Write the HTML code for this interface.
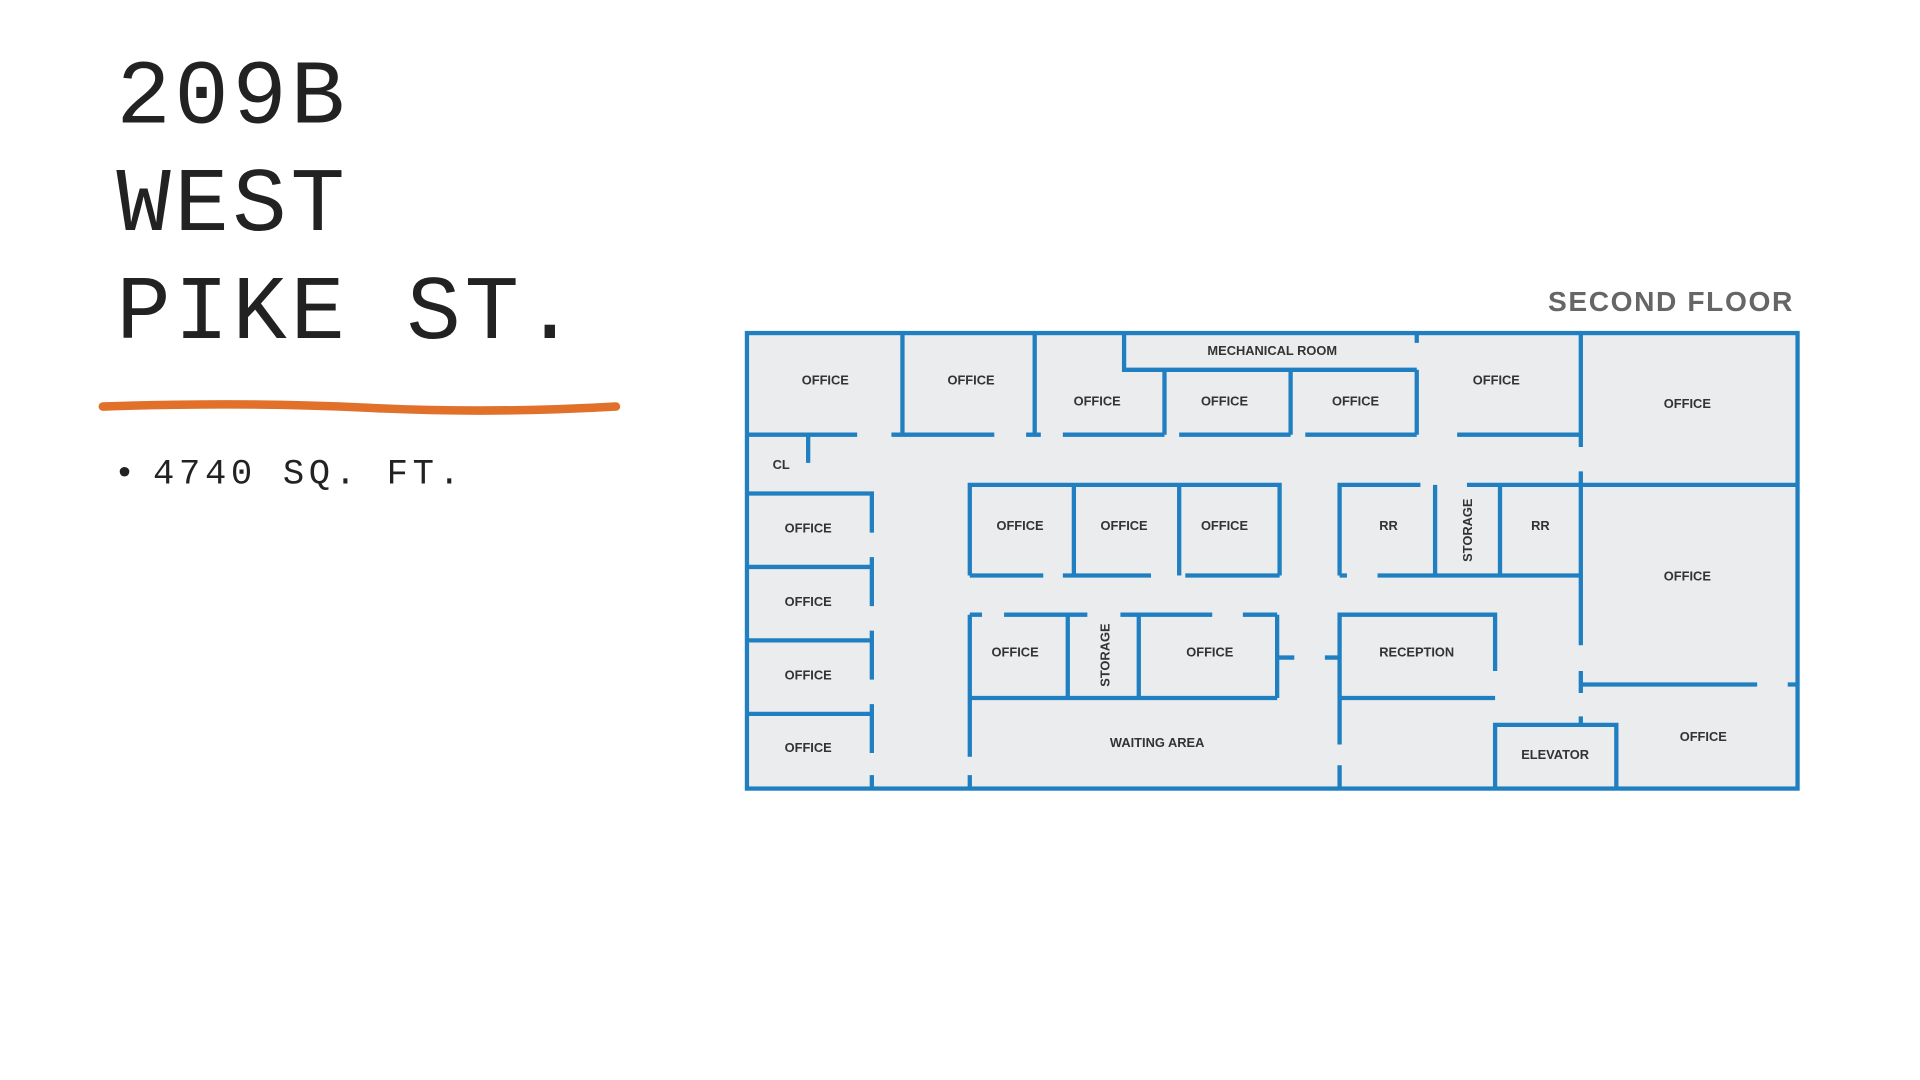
<!DOCTYPE html>
<html><head><meta charset="utf-8"><style>
html,body{margin:0;padding:0;background:#fff;}
svg{display:block;}
.l{font-family:"Liberation Sans",sans-serif;font-weight:bold;font-size:10.5px;fill:#333;text-anchor:middle;}
.w{stroke:#1f7fc0;stroke-width:3.5;fill:none;stroke-linecap:butt;}
</style></head><body>
<svg width="1920" height="1080" viewBox="0 0 1568 882" xmlns="http://www.w3.org/2000/svg">
<g font-family="Liberation Mono,monospace" font-size="74" letter-spacing="3" fill="#222">
<text x="95" y="100">209B</text>
<text x="95" y="188">WEST</text>
<text x="95" y="276">PIKE ST.</text>
</g>
<path d="M84 332 Q200 328 300 333 T503 332" stroke="#e0702a" stroke-width="7" fill="none" stroke-linecap="round"/>
<text x="93" y="395" font-family="Liberation Mono,monospace" font-size="29" fill="#222">•<tspan x="125" letter-spacing="3.8">4740 SQ. FT.</tspan></text>
<text x="1465" y="254" text-anchor="end" font-family="Liberation Sans,sans-serif" font-weight="bold" font-size="23" letter-spacing="1.3" fill="#666">SECOND FLOOR</text>
<rect x="610" y="272" width="858" height="372" fill="#ebecee"/>
<g class="w">
<rect x="610" y="272" width="858" height="372"/>
<path d="M737 272V355M845 272V355M918 272V302H1157M1157 272V280M1157 302V355M951 302V355M1054 302V355M1291 272V365"/>
<path d="M610 355H700M728 355H812M838 355H850M868 355H951M963 355H1054M1066 355H1157M1190 355H1291"/>
<path d="M660 355V378M610 403H712V435M610 463H712M712 455V495M610 523H712M712 515V555M610 583H712M712 575V615M712 633V644"/>
<path d="M792 470V396H1045V470M877 396V470M963 396V470M792 470H852M868 470H940M968 470H1045"/>
<path d="M1094 470V396H1160M1198 396H1290M1172 396V470M1225 396V470M1125 470H1290M1094 470H1100"/>
<path d="M1291 385V527M1291 396H1468M1291 559H1435M1460 559H1468M1291 548V566M1291 585V592"/>
<path d="M792 502H802M820 502H888M915 502H990M1015 502H1043M792 502V618M872 502V570M930 502V570M1043 502V570M792 570H1043M1043 537H1057M1082 537H1094"/>
<path d="M1094 608V502H1221V548M1094 570H1221M1094 625V644M1221 644V592H1320V644M792 633V644"/>
</g>
<text class="l" x="674" y="314">OFFICE</text>
<text class="l" x="793" y="314">OFFICE</text>
<text class="l" x="1039" y="290" font-size="10">MECHANICAL ROOM</text>
<text class="l" x="896" y="331">OFFICE</text>
<text class="l" x="1000" y="331">OFFICE</text>
<text class="l" x="1107" y="331">OFFICE</text>
<text class="l" x="1222" y="314">OFFICE</text>
<text class="l" x="1378" y="333">OFFICE</text>
<text class="l" x="638" y="383">CL</text>
<text class="l" x="660" y="435">OFFICE</text>
<text class="l" x="660" y="495">OFFICE</text>
<text class="l" x="660" y="555">OFFICE</text>
<text class="l" x="660" y="614">OFFICE</text>
<text class="l" x="833" y="433">OFFICE</text>
<text class="l" x="918" y="433">OFFICE</text>
<text class="l" x="1000" y="433">OFFICE</text>
<text class="l" x="1134" y="433">RR</text>
<text class="l" x="1258" y="433">RR</text>
<text class="l" transform="translate(1202,433) rotate(-90)" font-size="9.5">STORAGE</text>
<text class="l" x="1378" y="474">OFFICE</text>
<text class="l" x="829" y="536">OFFICE</text>
<text class="l" transform="translate(906,535) rotate(-90)" font-size="9.5">STORAGE</text>
<text class="l" x="988" y="536">OFFICE</text>
<text class="l" x="1157" y="536">RECEPTION</text>
<text class="l" x="945" y="610">WAITING AREA</text>
<text class="l" x="1270" y="620">ELEVATOR</text>
<text class="l" x="1391" y="605">OFFICE</text>
</svg>
</body></html>
